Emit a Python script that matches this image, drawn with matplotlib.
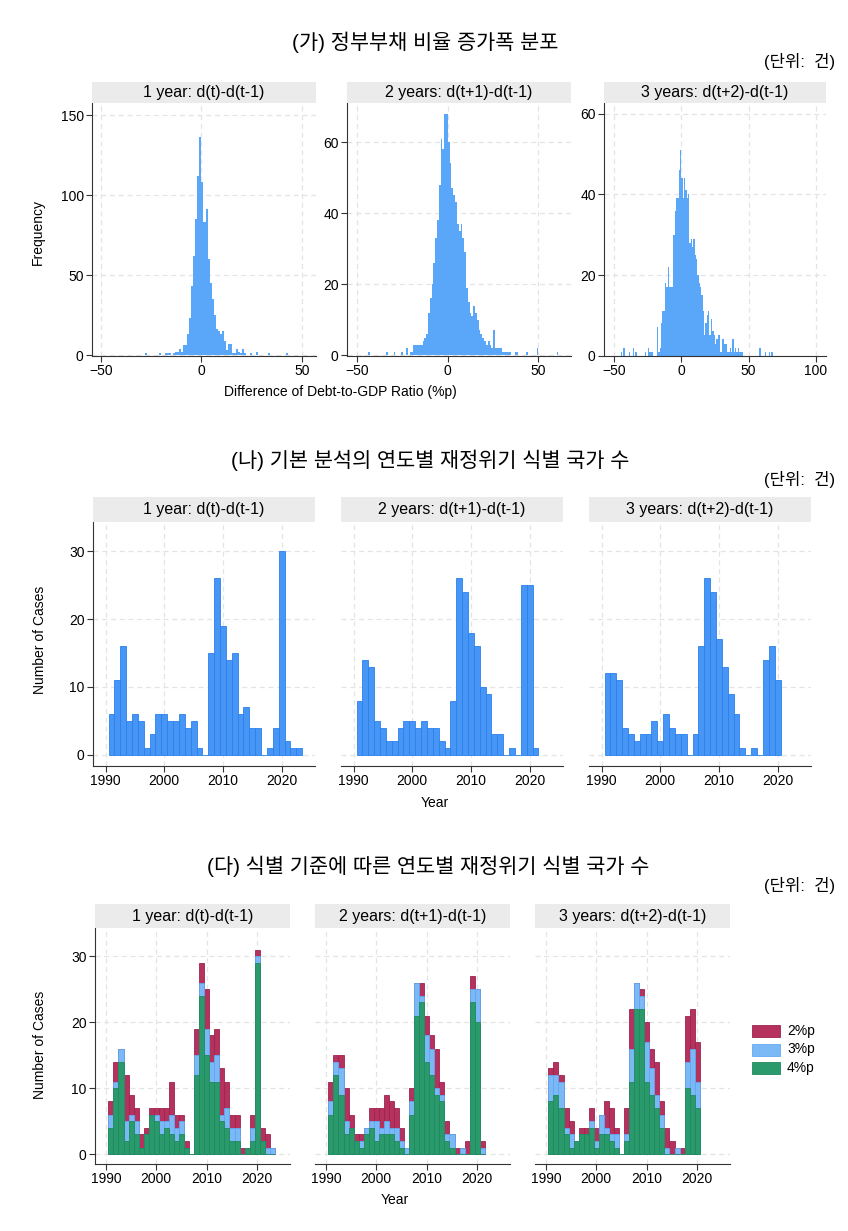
import matplotlib
matplotlib.use('Agg')
import matplotlib.pyplot as plt
from matplotlib.patches import Rectangle

# (가) change in debt-to-GDP ratio, 1-unit bins: left edge and frequency
hist_1y_bins = [-28, -21, -18, -17, -16, -14, -13, -12, -11, -10, -9, -8, -7, -6, -5, -4,
                -3, -2, -1, 0, 1, 2, 3, 4, 5, 6, 7, 8, 9, 10, 11, 12, 13, 14, 15, 16, 17,
                18, 19, 20, 21, 24, 27, 33, 42]
hist_1y_freq = [1, 1, 1, 1, 1, 1, 2, 2, 4, 2, 6, 6, 13, 23, 43, 62,
                85, 112, 136, 108, 83, 91, 60, 45, 35, 25, 16, 15, 13, 15, 9, 3, 7, 7, 1, 1, 4,
                2, 1, 4, 1, 1, 2, 1, 1]

hist_2y_bins = [-44, -34, -30, -26, -23, -21, -20] + list(range(-19, 35)) + [37, 38, 43, 49, 60]
hist_2y_freq = [1, 1, 1, 1, 2, 1, 1,
                3, 3, 3, 3, 3, 4, 5, 6, 12, 16, 20, 26, 33, 38, 48, 61, 58, 68, 68,
                60, 54, 47, 45, 43, 37, 35, 37, 33, 29, 19, 15, 12, 11, 14, 12, 10, 7, 6,
                5, 4, 3, 4, 3, 2, 7, 2, 2, 2, 2, 1, 1, 1, 1, 1,
                1, 1, 1, 2, 1]

hist_3y_bins = [-45, -43, -39, -36, -34, -27, -25, -24, -23, -22] + list(range(-18, 46)) + [58, 62, 65, 67]
hist_3y_freq = [1, 2, 1, 2, 1, 1, 2, 1, 1, 1,
                7, 1, 2, 8, 11, 11, 18, 17, 22, 17, 17, 17, 30, 36, 39, 39, 46, 51,
                44, 39, 44, 41, 39, 40, 28, 29, 27, 29, 25, 24, 20, 18, 17, 15, 11, 5,
                8, 10, 11, 5, 9, 6, 5, 3, 4, 5, 5, 1, 4, 4, 3, 3, 1, 1, 2, 1, 4, 1, 2, 1, 2,
                1, 1, 1,
                2, 1, 1, 1]

# (나) crisis counts per year (3%p criterion)
years_1y = list(range(1991, 2024))
years_2y = list(range(1991, 2022))
years_3y = list(range(1991, 2021))
cases_1y = [6, 11, 16, 5, 6, 5, 1, 3, 6, 6, 5, 5, 6, 4, 5, 1, 0, 15, 26, 19, 14, 15, 6, 7,
            4, 4, 0, 1, 4, 30, 2, 1, 1]
cases_2y = [8, 14, 13, 5, 4, 2, 2, 4, 5, 5, 4, 5, 4, 4, 2, 1, 8, 26, 24, 18, 16, 10, 9, 3,
            3, 0, 1, 0, 25, 25, 1]
cases_3y = [12, 12, 11, 4, 3, 2, 3, 3, 5, 2, 6, 4, 3, 3, 0, 3, 16, 26, 24, 17, 13, 9, 6, 1,
            0, 1, 0, 14, 16, 11]

# (다) counts under 2%p / 4%p criteria (3%p is the same as above)
crit2_1y = [8, 14, 16, 12, 9, 7, 3, 4, 7, 7, 7, 7, 11, 6, 6, 2, 0, 19, 29, 25, 18, 19, 13, 11,
            6, 6, 1, 1, 6, 31, 4, 3, 1]
crit4_1y = [4, 10, 14, 2, 5, 3, 1, 3, 6, 5, 3, 4, 3, 2, 3, 1, 0, 12, 24, 15, 11, 11, 5, 4,
            2, 2, 0, 1, 2, 29, 2, 0, 0]
crit2_2y = [11, 15, 15, 10, 6, 3, 3, 4, 7, 7, 7, 9, 8, 7, 4, 1, 10, 26, 26, 21, 18, 16, 11, 5,
            3, 1, 1, 2, 27, 25, 2]
crit4_2y = [6, 12, 9, 3, 4, 2, 1, 3, 4, 2, 3, 3, 3, 2, 1, 0, 6, 21, 23, 14, 12, 9, 8, 2,
            1, 0, 0, 0, 23, 20, 0]
crit2_3y = [13, 14, 12, 7, 5, 2, 4, 4, 7, 4, 6, 8, 7, 4, 0, 7, 22, 26, 25, 20, 16, 14, 8, 4,
            2, 1, 1, 21, 22, 17]
crit4_3y = [8, 9, 7, 3, 1, 2, 3, 3, 4, 1, 3, 3, 2, 1, 0, 2, 11, 22, 22, 11, 9, 7, 4, 0,
            0, 0, 0, 10, 9, 7]

strip_titles = ['1 year: d(t)-d(t-1)', '2 years: d(t+1)-d(t-1)', '3 years: d(t+2)-d(t-1)']
crit_labels = ['2%p', '3%p', '4%p']

plt.rcParams['font.family'] = ['Liberation Sans', 'Noto Sans CJK KR']
W, H = 848, 1231
fig = plt.figure(figsize=(W / 100, H / 100), dpi=100)
fig.patch.set_facecolor('white')

HIST_C = '#5AA6F9'
BAR_C, BAR_E = '#4796F6', '#2A80F0'
RED_C, RED_E = '#B5325E', '#9E2450'
BLU_C, BLU_E = '#7AB8F6', '#62A8F2'
GRN_C, GRN_E = '#2A9A6C', '#1E8A5D'


def add_ax(l, t, r, b, yaxis=True):
    ax = fig.add_axes([l / W, 1 - b / H, (r - l) / W, (b - t) / H])
    for s in ['top', 'right']:
        ax.spines[s].set_visible(False)
    for s in ['left', 'bottom']:
        ax.spines[s].set_color('#333333')
        ax.spines[s].set_linewidth(0.8)
    ax.tick_params(direction='out', length=4, width=0.8, colors='#333333',
                   labelsize=10, pad=2, labelcolor='black')
    if not yaxis:
        # shared y scale: only the first panel of a row carries the axis
        ax.spines['left'].set_visible(False)
        ax.tick_params(axis='y', left=False, labelleft=False)
    ax.grid(True, color='#E4E4E4', linestyle=(0, (4, 3)), linewidth=0.9)
    ax.set_axisbelow(True)
    return ax


def strip(l, r, bottom, text, h=21):
    fig.add_artist(Rectangle((l / W, 1 - bottom / H), (r - l) / W, h / H,
                             transform=fig.transFigure, fc='#EBEBEB', ec='none'))
    fig.text((l + r) / 2 / W, 1 - (bottom - h / 2) / H, text,
             ha='center', va='center', fontsize=11.5)


def ftext(x, y, s, **kw):
    fig.text(x / W, 1 - y / H, s, **kw)


# ---------- (가) ----------
ftext(425, 42, '(가) 정부부채 비율 증가폭 분포', ha='center', va='center', fontsize=15)
ftext(835, 62, '(단위:  건)', ha='right', va='center', fontsize=12)

hist_data = [(hist_1y_bins, hist_1y_freq), (hist_2y_bins, hist_2y_freq), (hist_3y_bins, hist_3y_freq)]
hist_boxes = [(92, 316), (347, 571), (604, 826)]
hist_xlim = [(-54.5, 57), (-55.7, 68), (-57.4, 107.6)]
hist_ylim = [(-0.6, 157.5), (-0.2, 71), (-0.1, 62.7)]
hist_yticks = [[0, 50, 100, 150], [0, 20, 40, 60], [0, 20, 40, 60]]
hist_xticks = [[-50, 0, 50], [-50, 0, 50], [-50, 0, 50, 100]]
for i in range(3):
    l, r = hist_boxes[i]
    ax = add_ax(l, 103, r, 356)
    bins, freq = hist_data[i]
    ax.bar(bins, freq, width=1, align='edge', color=HIST_C, edgecolor='none', linewidth=0)
    ax.set_xlim(*hist_xlim[i])
    ax.set_ylim(*hist_ylim[i])
    ax.set_xticks(hist_xticks[i])
    ax.set_yticks(hist_yticks[i])
    strip(l, r, 103, strip_titles[i])
ftext(38, 232, 'Frequency', ha='center', va='center', rotation=90, fontsize=10)
ftext(340, 392, 'Difference of Debt-to-GDP Ratio (%p)', ha='center', va='center', fontsize=10)

# ---------- (나) ----------
ftext(430, 460, '(나) 기본 분석의 연도별 재정위기 식별 국가 수', ha='center', va='center', fontsize=15)
ftext(835, 480, '(단위:  건)', ha='right', va='center', fontsize=12)

year_lists = [years_1y, years_2y, years_3y]
case_lists = [cases_1y, cases_2y, cases_3y]
nab_boxes = [(93, 315), (341, 563), (589, 811)]
for i in range(3):
    l, r = nab_boxes[i]
    ax = add_ax(l, 522, r, 766, yaxis=(i == 0))
    ax.bar(year_lists[i], case_lists[i], width=1, color=BAR_C, edgecolor=BAR_E, linewidth=0.6)
    ax.set_xlim(1987.85, 2025.7)
    ax.set_ylim(-1.65, 34.3)
    ax.set_xticks([1990, 2000, 2010, 2020])
    ax.set_yticks([0, 10, 20, 30])
    strip(l, r, 522, strip_titles[i], h=25)
ftext(40, 640, 'Number of Cases', ha='center', va='center', rotation=90, fontsize=10)
ftext(435, 803, 'Year', ha='center', va='center', fontsize=10)

# ---------- (다) ----------
ftext(428, 866, '(다) 식별 기준에 따른 연도별 재정위기 식별 국가 수', ha='center', va='center', fontsize=15)
ftext(835, 886, '(단위:  건)', ha='right', va='center', fontsize=12)

crit2_lists = [crit2_1y, crit2_2y, crit2_3y]
crit4_lists = [crit4_1y, crit4_2y, crit4_3y]
da_boxes = [(95, 290), (315, 510), (535, 730)]
for i in range(3):
    l, r = da_boxes[i]
    ax = add_ax(l, 928, r, 1164, yaxis=(i == 0))
    yrs = year_lists[i]
    ax.bar(yrs, crit2_lists[i], width=1, color=RED_C, edgecolor=RED_E, linewidth=0.6)
    ax.bar(yrs, case_lists[i], width=1, color=BLU_C, edgecolor=BLU_E, linewidth=0.6)
    ax.bar(yrs, crit4_lists[i], width=1, color=GRN_C, edgecolor=GRN_E, linewidth=0.6)
    ax.set_xlim(1987.85, 2026.5)
    ax.set_ylim(-1.5, 34.3)
    ax.set_xticks([1990, 2000, 2010, 2020])
    ax.set_yticks([0, 10, 20, 30])
    strip(l, r, 928, strip_titles[i], h=24)
ftext(40, 1045, 'Number of Cases', ha='center', va='center', rotation=90, fontsize=10)
ftext(395, 1200, 'Year', ha='center', va='center', fontsize=10)

# legend for the criteria
for j, (fc, ec) in enumerate([(RED_C, RED_E), (BLU_C, BLU_E), (GRN_C, GRN_E)]):
    y = 1031 + j * 18.5
    fig.add_artist(Rectangle((752 / W, 1 - (y + 6) / H), 28 / W, 12 / H,
                             transform=fig.transFigure, fc=fc, ec=ec, lw=0.6))
    ftext(787, y, crit_labels[j], ha='left', va='center', fontsize=10)

fig.savefig('out.png', dpi=100)
